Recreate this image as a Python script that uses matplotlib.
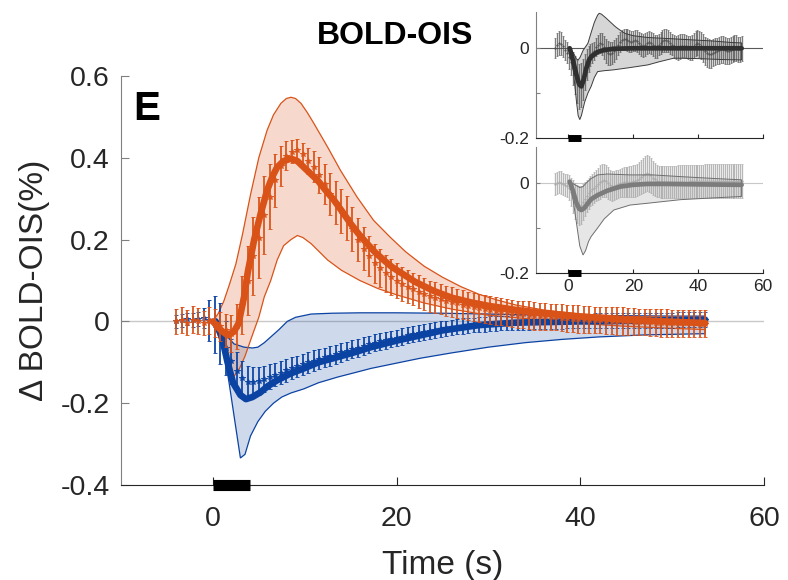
import numpy as np
import matplotlib
matplotlib.use('Agg')
import matplotlib.pyplot as plt

plt.rcParams['font.family'] = ['Liberation Sans', 'DejaVu Sans']
plt.rcParams['axes.unicode_minus'] = False

# sampling times of the averaged traces (s)
t_data = np.round(np.arange(-4.0, 53.7, 0.6), 1)

# main panel, orange trace (mean and error)
orange_mean = [0.000, 0.004, -0.003, 0.004, 0.001, -0.004, 0.002, -0.004, -0.012, -0.022,
               -0.030, -0.012, 0.040, 0.100, 0.160, 0.205, 0.260, 0.305, 0.345, 0.380,
               0.405, 0.415, 0.420, 0.410, 0.393, 0.378, 0.358, 0.335, 0.312, 0.290,
               0.270, 0.252, 0.226, 0.200, 0.178, 0.160, 0.142, 0.130, 0.118, 0.108,
               0.100, 0.092, 0.085, 0.079, 0.073, 0.067, 0.062, 0.058, 0.054, 0.050,
               0.047, 0.044, 0.041, 0.038, 0.035, 0.033, 0.030, 0.028, 0.026, 0.024,
               0.022, 0.020, 0.018, 0.017, 0.015, 0.014, 0.013, 0.012, 0.011, 0.010,
               0.009, 0.008, 0.007, 0.006, 0.005, 0.004, 0.004, 0.003, 0.002, 0.002,
               0.001, 0.000, 0.000, -0.001, -0.001, -0.002, -0.002, -0.003, -0.003, -0.004,
               -0.004, -0.004, -0.005, -0.005, -0.005, -0.006, -0.006]
orange_sem = [0.030, 0.032, 0.030, 0.033, 0.031, 0.030, 0.032, 0.034, 0.036, 0.040,
              0.045, 0.055, 0.070, 0.085, 0.095, 0.100, 0.095, 0.080, 0.065, 0.050,
              0.036, 0.028, 0.025, 0.027, 0.032, 0.038, 0.044, 0.049, 0.052, 0.053,
              0.054, 0.054, 0.054, 0.053, 0.052, 0.050, 0.048, 0.046, 0.045, 0.044,
              0.043, 0.042, 0.041, 0.040, 0.040, 0.039, 0.038, 0.038, 0.037, 0.037,
              0.036, 0.036, 0.035, 0.035, 0.035, 0.034, 0.034, 0.034, 0.034, 0.033,
              0.033, 0.033, 0.033, 0.033, 0.034, 0.034, 0.033, 0.033, 0.032, 0.032,
              0.033, 0.033, 0.034, 0.034, 0.033, 0.033, 0.032, 0.032, 0.033, 0.033,
              0.034, 0.034, 0.033, 0.033, 0.032, 0.032, 0.033, 0.033, 0.034, 0.034,
              0.033, 0.033, 0.032, 0.032, 0.033, 0.033, 0.033]

# main panel, blue trace
blue_mean = [0.000, 0.003, 0.005, 0.004, 0.006, 0.008, 0.003, -0.008, -0.030, -0.065,
             -0.097, -0.122, -0.138, -0.147, -0.148, -0.145, -0.140, -0.135, -0.130, -0.125,
             -0.120, -0.115, -0.110, -0.105, -0.100, -0.096, -0.092, -0.088, -0.084, -0.080,
             -0.076, -0.072, -0.068, -0.064, -0.060, -0.056, -0.052, -0.049, -0.046, -0.043,
             -0.040, -0.037, -0.034, -0.031, -0.028, -0.026, -0.023, -0.021, -0.019, -0.017,
             -0.015, -0.013, -0.011, -0.010, -0.009, -0.008, -0.007, -0.006, -0.005, -0.004,
             -0.004, -0.003, -0.003, -0.002, -0.002, -0.001, -0.001, 0.000, 0.000, 0.000,
             0.000, 0.001, 0.001, 0.001, 0.001, 0.001, 0.002, 0.002, 0.002, 0.002,
             0.002, 0.002, 0.003, 0.003, 0.003, 0.003, 0.003, 0.003, 0.003, 0.003,
             0.003, 0.004, 0.004, 0.004, 0.004, 0.004, 0.004]
blue_sem = [0.015, 0.016, 0.015, 0.017, 0.018, 0.025, 0.050, 0.070, 0.075, 0.065,
            0.055, 0.046, 0.040, 0.038, 0.036, 0.034, 0.032, 0.030, 0.029, 0.028,
            0.027, 0.027, 0.026, 0.026, 0.025, 0.025, 0.024, 0.024, 0.024, 0.023,
            0.023, 0.022, 0.022, 0.022, 0.022, 0.021, 0.021, 0.021, 0.021, 0.020,
            0.020, 0.020, 0.020, 0.020, 0.020, 0.019, 0.019, 0.019, 0.019, 0.019,
            0.019, 0.019, 0.019, 0.018, 0.018, 0.018, 0.018, 0.018, 0.018, 0.018,
            0.018, 0.018, 0.018, 0.018, 0.018, 0.018, 0.018, 0.018, 0.018, 0.018,
            0.018, 0.018, 0.018, 0.018, 0.018, 0.018, 0.018, 0.018, 0.018, 0.018,
            0.018, 0.018, 0.018, 0.018, 0.018, 0.018, 0.018, 0.018, 0.018, 0.018,
            0.018, 0.018, 0.018, 0.018, 0.018, 0.018, 0.018]

# fitted responses (thick lines)
orange_fit_t = [0, 0.8, 1.6, 2.3, 2.8, 3.4, 3.8, 4.5, 5.2, 5.9, 6.5, 7.0, 7.7, 8.5, 9.2, 9.9,
                10.6, 11.4, 12.3, 13.2, 14.1, 15.0, 15.9, 16.8, 17.7, 18.6, 19.5, 20.4, 22,
                24, 26, 28, 30, 33, 36, 40, 45, 50, 53.6]
orange_fit = [0, -0.02, -0.034, -0.025, -0.005, 0.06, 0.12, 0.2, 0.263, 0.32, 0.355, 0.377,
              0.392, 0.398, 0.392, 0.377, 0.362, 0.345, 0.32, 0.296, 0.268, 0.239, 0.213,
              0.19, 0.168, 0.15, 0.133, 0.12, 0.097, 0.075, 0.058, 0.047, 0.038, 0.028,
              0.02, 0.012, 0.004, -0.001, -0.004]
blue_fit_t = [0.3, 1.0, 1.6, 2.2, 3.0, 3.6, 4.3, 5.2, 6.0, 7.0, 8.5, 9.9, 11.5, 13.6, 15.5,
              17.2, 20, 22.6, 25, 29, 33, 40, 47, 53.6]
blue_fit = [0, -0.04, -0.1, -0.15, -0.18, -0.19, -0.185, -0.173, -0.158, -0.144, -0.127,
            -0.115, -0.1, -0.087, -0.075, -0.063, -0.047, -0.034, -0.022, -0.009, -0.003,
            0.0, 0.002, 0.004]

# shaded ranges
orange_up_t = [0, 0.6, 1.2, 1.8, 2.5, 3.2, 4.1, 5.0, 5.9, 6.6, 7.4, 8.0, 8.5, 9.0, 9.6, 10.3,
               11.0, 12.5, 13.9, 15.7, 17.5, 19.3, 21, 23, 25, 27, 29, 31, 33, 36, 40, 45,
               50, 53.6]
orange_up = [0, 0.02, 0.05, 0.09, 0.14, 0.21, 0.31, 0.40, 0.467, 0.505, 0.533, 0.545, 0.548,
             0.545, 0.533, 0.51, 0.484, 0.426, 0.369, 0.304, 0.247, 0.206, 0.17, 0.135,
             0.108, 0.085, 0.066, 0.052, 0.04, 0.028, 0.018, 0.012, 0.01, 0.01]
orange_lo_t = [0, 0.6, 1.2, 1.6, 2.1, 2.8, 3.5, 4.2, 5.0, 5.6, 6.3, 7.0, 7.7, 8.5, 9.2, 9.8,
               10.7, 11.6, 12.5, 14, 16, 18, 20, 23, 26, 30, 35, 40, 45, 50, 53.6]
orange_lo = [0, -0.035, -0.08, -0.11, -0.14, -0.12, -0.085, -0.04, 0.01, 0.06, 0.1, 0.15,
             0.185, 0.2, 0.21, 0.205, 0.19, 0.17, 0.15, 0.125, 0.1, 0.08, 0.065, 0.045,
             0.03, 0.015, 0.005, -0.005, -0.012, -0.017, -0.02]
blue_up_t = [0.6, 1.5, 2.3, 3.4, 4.3, 4.9, 5.6, 6.3, 7.2, 8.1, 9.0, 10.7, 13, 16, 20, 25, 30,
             35, 40, 45, 50, 53.6]
blue_up = [-0.005, -0.035, -0.055, -0.063, -0.065, -0.063, -0.052, -0.038, -0.02, 0.0, 0.01,
           0.018, 0.02, 0.021, 0.021, 0.02, 0.018, 0.016, 0.015, 0.014, 0.013, 0.013]
blue_lo_t = [0.6, 1.2, 1.8, 2.4, 3.0, 3.5, 4.1, 4.9, 5.7, 6.6, 7.5, 8.5, 9.9, 11.5, 13.6,
             15.5, 17.2, 20, 22.6, 26, 30, 34, 38, 42, 47, 53.6]
blue_lo = [-0.005, -0.07, -0.155, -0.245, -0.334, -0.325, -0.28, -0.245, -0.22, -0.2,
           -0.185, -0.175, -0.165, -0.15, -0.136, -0.125, -0.115, -0.102, -0.09, -0.077,
           -0.063, -0.052, -0.044, -0.038, -0.033, -0.03]

# upper inset (dark grey)
top_mean = [0.000, 0.008, 0.012, 0.010, 0.004, -0.004, -0.010, -0.020, -0.030, -0.045,
            -0.060, -0.075, -0.085, -0.082, -0.070, -0.052, -0.036, -0.024, -0.015, -0.010,
            -0.005, 0.002, 0.008, 0.012, 0.010, 0.002, -0.006, -0.010, -0.012, -0.010,
            -0.006, 0.000, 0.008, 0.014, 0.018, 0.020, 0.020, 0.018, 0.016, 0.015,
            0.016, 0.018, 0.016, 0.012, 0.008, 0.006, 0.008, 0.012, 0.014, 0.012,
            0.008, 0.004, 0.004, 0.008, 0.012, 0.016, 0.018, 0.018, 0.016, 0.012,
            0.008, 0.004, 0.002, 0.002, 0.004, 0.006, 0.006, 0.004, 0.002, 0.000,
            0.002, 0.006, 0.010, 0.012, 0.010, 0.006, 0.000, -0.006, -0.010, -0.012,
            -0.012, -0.010, -0.008, -0.006, -0.004, -0.002, -0.002, -0.004, -0.006, -0.006,
            -0.004, -0.002, 0.000, 0.000, -0.002, -0.002, 0.000]
top_sem = [0.022, 0.025, 0.026, 0.026, 0.024, 0.022, 0.023, 0.026, 0.030, 0.036,
           0.042, 0.048, 0.050, 0.050, 0.046, 0.040, 0.034, 0.028, 0.024, 0.022,
           0.020, 0.020, 0.021, 0.022, 0.024, 0.026, 0.027, 0.027, 0.026, 0.025,
           0.024, 0.023, 0.022, 0.022, 0.022, 0.023, 0.024, 0.025, 0.025, 0.024,
           0.023, 0.023, 0.024, 0.025, 0.026, 0.026, 0.025, 0.024, 0.024, 0.025,
           0.026, 0.026, 0.025, 0.024, 0.024, 0.025, 0.026, 0.026, 0.025, 0.024,
           0.024, 0.025, 0.026, 0.027, 0.027, 0.026, 0.025, 0.025, 0.026, 0.027,
           0.028, 0.028, 0.028, 0.028, 0.029, 0.030, 0.031, 0.032, 0.032, 0.032,
           0.031, 0.030, 0.030, 0.030, 0.030, 0.030, 0.030, 0.030, 0.030, 0.029,
           0.029, 0.029, 0.029, 0.029, 0.028, 0.028, 0.028]
top_fit_t = [0.4, 1.5, 2.5, 3.3, 4.0, 4.7, 5.5, 6.3, 7.0, 9.0, 11.0, 14.0, 20.0, 30.0, 40.0, 53.4]
top_fit = [0.0, -0.03, -0.06, -0.08, -0.085, -0.07, -0.045, -0.027, -0.019, -0.008, -0.004,
           -0.001, 0.0, 0.0, 0.0, 0.0]
top_up_t = [0.4, 1.5, 2.5, 3.0, 3.6, 4.5, 6.0, 7.0, 8.0, 9.0, 9.5, 10.2, 11.5, 13.0, 14.5,
            16.0, 17.5, 20.0, 24.5, 30.0, 35.0, 40.0, 45.0, 50.0, 53.4]
top_up = [0.0, -0.01, -0.024, -0.026, -0.02, -0.005, 0.011, 0.035, 0.058, 0.074, 0.078,
          0.076, 0.068, 0.058, 0.048, 0.04, 0.033, 0.028, 0.024, 0.022, 0.02, 0.018, 0.016,
          0.013, 0.012]
top_lo_t = [0.4, 1.5, 2.5, 3.0, 3.5, 4.0, 5.0, 6.0, 7.0, 8.0, 9.0, 11.0, 14.0, 19.0, 24.5,
            28.0, 32.5, 40.0, 47.0, 53.4]
top_lo = [0.0, -0.05, -0.12, -0.15, -0.159, -0.15, -0.12, -0.1, -0.085, -0.065, -0.052,
          -0.05, -0.048, -0.043, -0.037, -0.03, -0.022, -0.023, -0.025, -0.026]

# lower inset (light grey)
bot_mean = [-0.002, 0.000, 0.002, 0.001, -0.002, -0.004, -0.006, -0.010, -0.020, -0.030,
            -0.040, -0.046, -0.050, -0.048, -0.043, -0.036, -0.029, -0.023, -0.018, -0.014,
            -0.010, -0.006, -0.002, 0.002, 0.005, 0.006, 0.004, 0.000, -0.004, -0.006,
            -0.006, -0.004, -0.002, 0.000, 0.001, 0.002, 0.002, 0.002, 0.003, 0.003,
            0.004, 0.005, 0.007, 0.010, 0.013, 0.017, 0.020, 0.022, 0.021, 0.017,
            0.012, 0.008, 0.005, 0.003, 0.002, 0.002, 0.002, 0.002, 0.002, 0.002,
            0.002, 0.002, 0.002, 0.003, 0.003, 0.003, 0.003, 0.003, 0.003, 0.004,
            0.004, 0.004, 0.004, 0.004, 0.004, 0.004, 0.004, 0.005, 0.005, 0.005,
            0.005, 0.005, 0.005, 0.005, 0.005, 0.005, 0.005, 0.005, 0.005, 0.005,
            0.005, 0.005, 0.005, 0.005, 0.005, 0.005, 0.005]
bot_sem = [0.025, 0.025, 0.025, 0.025, 0.025, 0.025, 0.025, 0.028, 0.032, 0.036,
           0.040, 0.042, 0.043, 0.042, 0.040, 0.038, 0.036, 0.035, 0.034, 0.034,
           0.034, 0.035, 0.036, 0.037, 0.037, 0.037, 0.036, 0.035, 0.034, 0.033,
           0.032, 0.032, 0.032, 0.032, 0.033, 0.033, 0.033, 0.033, 0.034, 0.034,
           0.035, 0.035, 0.036, 0.037, 0.038, 0.039, 0.040, 0.040, 0.040, 0.039,
           0.038, 0.037, 0.036, 0.035, 0.035, 0.035, 0.035, 0.035, 0.035, 0.035,
           0.035, 0.035, 0.035, 0.036, 0.036, 0.036, 0.036, 0.036, 0.036, 0.037,
           0.037, 0.037, 0.037, 0.037, 0.037, 0.037, 0.037, 0.038, 0.038, 0.038,
           0.038, 0.038, 0.038, 0.038, 0.038, 0.038, 0.038, 0.038, 0.038, 0.038,
           0.038, 0.038, 0.038, 0.038, 0.038, 0.038, 0.038]
bot_fit_t = [0.4, 1.5, 2.5, 3.3, 4.0, 5.0, 6.0, 7.0, 9.0, 12.0, 16.0, 20.0, 24.4, 30.0, 40.0, 53.4]
bot_fit = [0.003, -0.02, -0.045, -0.057, -0.06, -0.055, -0.045, -0.036, -0.027, -0.017,
           -0.008, -0.004, -0.002, -0.002, -0.003, -0.004]
bot_up_t = [0.4, 1.5, 2.5, 3.5, 4.5, 5.5, 7.0, 9.0, 12.0, 19.0, 26.0, 35.0, 45.0, 53.4]
bot_up = [0.003, -0.002, -0.006, -0.01, -0.008, 0.0, 0.01, 0.018, 0.02, 0.018, 0.018, 0.014,
          0.01, 0.007]
bot_lo_t = [0.4, 1.5, 2.5, 3.5, 4.5, 5.3, 6.2, 7.0, 9.0, 11.0, 14.0, 19.0, 24.4, 34.6, 45.0, 53.4]
bot_lo = [0.003, -0.04, -0.09, -0.14, -0.16, -0.15, -0.13, -0.119, -0.1, -0.08, -0.06,
          -0.049, -0.045, -0.037, -0.033, -0.03]

stim_on, stim_off = 0, 4

ORANGE = '#D95319'
BLUE = '#0B43A3'
TXT = '#262626'


def band(ax, up_t, up, lo_t, lo, face, edge, alpha, lw):
    xs = np.concatenate([up_t, lo_t[::-1]])
    ys = np.concatenate([up, lo[::-1]])
    ax.fill(xs, ys, facecolor=face, alpha=alpha, edgecolor='none', zorder=1)
    ax.fill(xs, ys, facecolor='none', edgecolor=edge, lw=lw, zorder=2.5)


def style_axes(ax, size, ticklen):
    for s in ['top', 'right']:
        ax.spines[s].set_visible(False)
    ax.spines['left'].set_color('#808080')
    ax.spines['bottom'].set_color(TXT)
    ax.tick_params(direction='in', length=ticklen, width=0.8, labelsize=size,
                   labelcolor=TXT)
    ax.tick_params(axis='y', color='#808080')
    ax.tick_params(axis='x', color=TXT)


fig = plt.figure(figsize=(7.88, 5.8), dpi=100)

# ---- main panel
ax = fig.add_axes([121 / 788, 1 - 485 / 580, 643 / 788, 409 / 580])
ax.axhline(0, color='#c8c8c8', lw=1, zorder=0.5)

band(ax, np.array(blue_up_t), np.array(blue_up), np.array(blue_lo_t), np.array(blue_lo),
     BLUE, BLUE, 0.2, 0.9)
ax.errorbar(t_data, blue_mean, yerr=blue_sem, fmt='*', color=BLUE, ms=4, mew=0.7,
            elinewidth=1.4, capsize=1.7, capthick=1.4, alpha=0.9, zorder=3)
ax.plot(blue_fit_t, blue_fit, color=BLUE, lw=4.8, solid_capstyle='round', zorder=4)

band(ax, np.array(orange_up_t), np.array(orange_up), np.array(orange_lo_t), np.array(orange_lo),
     ORANGE, ORANGE, 0.22, 0.9)
ax.errorbar(t_data, orange_mean, yerr=orange_sem, fmt='*', color=ORANGE, ms=4, mew=0.7,
            elinewidth=1.4, capsize=1.7, capthick=1.4, alpha=0.9, zorder=5)
ax.plot(orange_fit_t, orange_fit, color=ORANGE, lw=4.8, solid_capstyle='round', zorder=6)

ax.plot([stim_on, stim_off], [-0.4, -0.4], color='black', lw=8, solid_capstyle='butt',
        clip_on=False, zorder=10)

ax.set_xlim(-10, 60)
ax.set_ylim(-0.4, 0.6)
ax.set_xticks([0, 20, 40, 60])
ax.set_yticks([-0.4, -0.2, 0, 0.2, 0.4, 0.6])
ax.set_yticklabels(['-0.4', '-0.2', '0', '0.2', '0.4', '0.6'])
style_axes(ax, 20.5, 6)
ax.tick_params(axis='x', pad=15)
ax.tick_params(axis='y', pad=8)
ax.set_xlabel('Time (s)', fontsize=24, color=TXT)
ax.set_ylabel('\u0394 BOLD-OIS(%)', fontsize=24, color=TXT)
ax.xaxis.set_label_coords(0.5, -0.158)
ax.yaxis.set_label_coords(-0.11, 0.5)

fig.text(133 / 788, 1 - 119.5 / 580, 'E', fontsize=29, fontweight='bold', color='black',
         ha='left', va='baseline')
fig.text(395 / 788, 1 - 43.5 / 580, 'BOLD-OIS', fontsize=23, fontweight='bold',
         color='black', ha='center', va='baseline')

# ---- upper inset
ax1 = fig.add_axes([536 / 788, 1 - 138 / 580, 227 / 788, 125.6 / 580])
ax1.axhline(0, color='#5a5a5a', lw=0.8, zorder=0.5)
band(ax1, np.array(top_up_t), np.array(top_up), np.array(top_lo_t), np.array(top_lo),
     '#d6d6d6', '#3c3c3c', 1.0, 0.7)
ax1.errorbar(t_data, top_mean, yerr=top_sem, fmt='*', color='#505050', ms=1.5, mew=0.5,
             elinewidth=0.95, capsize=1.0, capthick=0.9, alpha=0.75, zorder=2)
ax1.plot(top_fit_t, top_fit, color='#303030', lw=3.4, solid_capstyle='round', zorder=4)
ax1.plot([stim_on, stim_off], [-0.2, -0.2], color='black', lw=5, solid_capstyle='butt',
         clip_on=False, zorder=10)
ax1.set_xlim(-10, 60)
ax1.set_ylim(-0.2, 0.08)
ax1.set_xticks([0, 20, 40, 60])
ax1.set_xticklabels([])
ax1.set_yticks([-0.2, -0.1, 0])
ax1.set_yticklabels(['-0.2', '', '0'])
style_axes(ax1, 12.5, 3)
ax1.tick_params(axis='y', pad=5)

# ---- lower inset
ax2 = fig.add_axes([536 / 788, 1 - 273 / 580, 227 / 788, 126 / 580])
ax2.axhline(0, color='#c8c8c8', lw=0.8, zorder=0.5)
band(ax2, np.array(bot_up_t), np.array(bot_up), np.array(bot_lo_t), np.array(bot_lo),
     '#e6e6e6', '#6e6e6e', 1.0, 0.7)
ax2.errorbar(t_data, bot_mean, yerr=bot_sem, fmt='*', color='#ababab', ms=1.5, mew=0.5,
             elinewidth=0.95, capsize=1.0, capthick=0.9, alpha=0.85, zorder=2)
ax2.plot(bot_fit_t, bot_fit, color='#7c7c7c', lw=3.4, solid_capstyle='round', zorder=4)
ax2.plot([stim_on, stim_off], [-0.2, -0.2], color='black', lw=5, solid_capstyle='butt',
         clip_on=False, zorder=10)
ax2.set_xlim(-10, 60)
ax2.set_ylim(-0.2, 0.08)
ax2.set_xticks([0, 20, 40, 60])
ax2.set_xticklabels(['0', '20', '40', '60'])
ax2.set_yticks([-0.2, -0.1, 0])
ax2.set_yticklabels(['-0.2', '', '0'])
style_axes(ax2, 12.5, 3)
ax2.tick_params(axis='y', pad=5)
ax2.tick_params(axis='x', pad=4)

fig.savefig('out.png', dpi=100)
